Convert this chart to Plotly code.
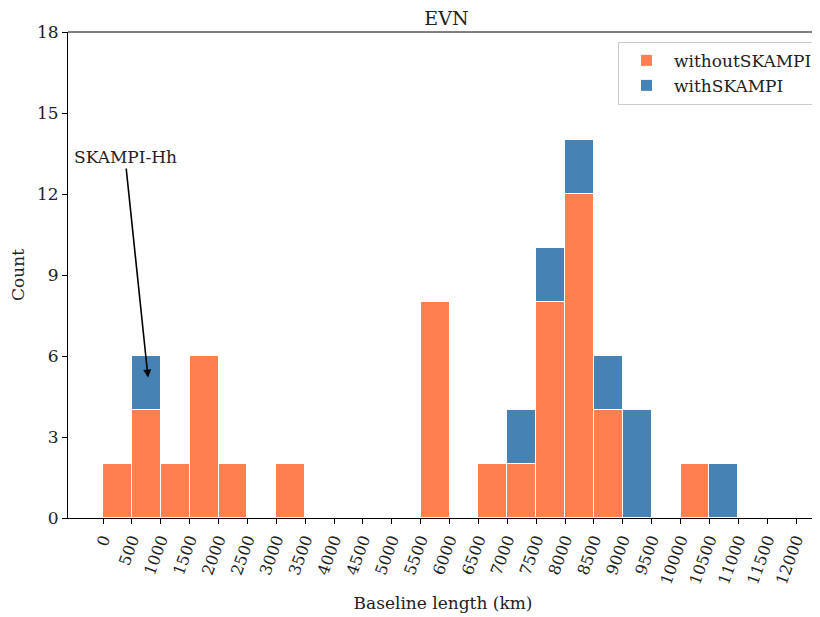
import plotly.graph_objects as go

bin_left = [0, 500, 1000, 1500, 2000, 2500, 3000, 3500, 4000, 4500, 5000, 5500,
            6000, 6500, 7000, 7500, 8000, 8500, 9000, 9500, 10000, 10500]
without_skampi = [2, 4, 2, 6, 2, 0, 2, 0, 0, 0, 0, 8, 0, 2, 2, 8, 12, 4, 0, 0, 2, 0]
with_skampi_extra = [0, 2, 0, 0, 0, 0, 0, 0, 0, 0, 0, 0, 0, 0, 2, 2, 2, 2, 4, 0, 0, 2]
bin_width = 500
tick_vals = list(range(0, 12001, 500))
y_ticks = [0, 3, 6, 9, 12, 15, 18]

centers = [b + bin_width / 2 for b in bin_left]

FONT = "DejaVu Serif"
fig = go.Figure()
fig.add_trace(go.Bar(x=centers, y=without_skampi, width=bin_width, name="withoutSKAMPI",
                     marker=dict(color="#FF7F50", line=dict(color="white", width=1))))
fig.add_trace(go.Bar(x=centers, y=with_skampi_extra, width=bin_width, name="withSKAMPI",
                     marker=dict(color="#4682B4", line=dict(color="white", width=1))))

fig.add_annotation(x=780, y=5.2, ax=381, ay=13.37, xref="x", yref="y", axref="x", ayref="y",
                   text="SKAMPI-Hh", showarrow=True, arrowhead=2, arrowsize=1, arrowwidth=1.6,
                   arrowcolor="black", font=dict(family=FONT, size=17, color="#222"))

fig.update_layout(
    barmode="stack", bargap=0,
    width=812, height=609,
    margin=dict(l=60, r=2, t=24, b=99, autoexpand=False),
    plot_bgcolor="white", paper_bgcolor="white",
    font=dict(family=FONT, size=17, color="#222"),
    title=dict(text="EVN", x=0.54, xanchor="center", y=1 - 10 / 609, yanchor="middle",
               font=dict(family=FONT, size=19, color="#222")),
    legend=dict(x=1.0, y=0.98, xanchor="right", yanchor="top",
                bordercolor="#cccccc", borderwidth=1, bgcolor="rgba(255,255,255,0.8)",
                font=dict(family=FONT, size=17, color="#222"),
                traceorder="normal", itemwidth=45),
    showlegend=True,
)
fig.update_xaxes(range=[-606, 12381], tickvals=tick_vals, ticktext=[str(v) for v in tick_vals],
                 tickangle=-70, ticks="outside", ticklen=5, tickcolor="black",
                 showline=True, linecolor="black", linewidth=1, showgrid=False, zeroline=False,
                 automargin=False,
                 title=dict(text="Baseline length (km)", font=dict(family=FONT, size=17), standoff=10),
                 tickfont=dict(family=FONT, size=16))
fig.update_yaxes(range=[0, 18], tickvals=y_ticks, ticks="outside", ticklen=5, tickcolor="black",
                 showline=True, linecolor="black", linewidth=1, showgrid=False, zeroline=False,
                 automargin=False,
                 title=dict(text="Count", font=dict(family=FONT, size=17), standoff=10),
                 tickfont=dict(family=FONT, size=17))
fig.add_shape(type="line", xref="paper", yref="paper", x0=0, x1=1, y0=1, y1=1,
              line=dict(color="black", width=1))
fig.write_html("out.html")
